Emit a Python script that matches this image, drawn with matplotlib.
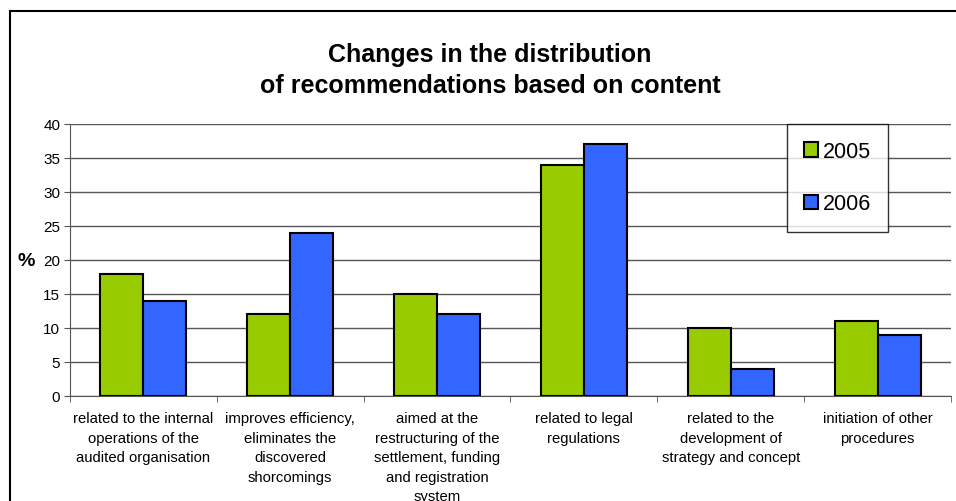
import matplotlib
matplotlib.use("Agg")
import matplotlib.pyplot as plt
from matplotlib.patches import Rectangle
import numpy as np

plt.rcParams['font.family'] = ['Liberation Sans', 'DejaVu Sans']

categories = [
    "related to the internal\noperations of the\naudited organisation",
    "improves efficiency,\neliminates the\ndiscovered\nshorcomings",
    "aimed at the\nrestructuring of the\nsettlement, funding\nand registration\nsystem",
    "related to legal\nregulations",
    "related to the\ndevelopment of\nstrategy and concept",
    "initiation of other\nprocedures",
]
values_2005 = [18, 12, 15, 34, 10, 11]
values_2006 = [14, 24, 12, 37, 4, 9]
series_labels = ["2005", "2006"]
yticks = [0, 5, 10, 15, 20, 25, 30, 35, 40]
title_lines = ["Changes in the distribution",
               "of recommendations based on content"]

W, H = 956, 502
fig = plt.figure(figsize=(W / 100, H / 100), dpi=100)

# outer chart frame (runs off the right and bottom edges)
fig.patches.append(Rectangle((10 / W, -0.05), 1.2, 1 - 12 / H + 0.05,
                             transform=fig.transFigure, fill=False,
                             edgecolor='black', linewidth=1.5, zorder=0))

ax = fig.add_axes([70 / W, 1 - 397 / H, (951 - 70) / W, (397 - 125) / H])

x = np.arange(len(categories))
bw = 0.293
ax.bar(x - bw / 2, values_2005, bw, color='#99CC00', edgecolor='black',
       linewidth=1.5, label=series_labels[0], zorder=3)
ax.bar(x + bw / 2, values_2006, bw, color='#3366FF', edgecolor='black',
       linewidth=1.5, label=series_labels[1], zorder=3)

ax.set_xlim(-0.5, len(categories) - 0.5)
ax.set_ylim(0, 40)
ax.set_yticks(yticks)
ax.tick_params(axis='y', labelsize=11, length=4, direction='out', pad=3,
               color='#555555')
ax.yaxis.grid(True, color='#555555', linewidth=1)
ax.set_axisbelow(True)

ax.set_xticks(x)
ax.set_xticklabels(categories, fontsize=10.7, linespacing=1.5)
ax.tick_params(axis='x', length=0, pad=11)
ax.set_xticks(np.arange(len(categories) + 1) - 0.5, minor=True)
ax.tick_params(axis='x', which='minor', length=4, color='#555555')

for s in ['top', 'right']:
    ax.spines[s].set_visible(False)
for s in ['left', 'bottom']:
    ax.spines[s].set_color('#555555')

ax.set_ylabel('%', fontsize=14, fontweight='bold', rotation=0,
              labelpad=12.5, va='center')

leg = ax.legend(loc='upper left', bbox_to_anchor=((787 - 70) / 881, 1.0),
                fontsize=15.5, frameon=True, fancybox=False, edgecolor='black',
                borderpad=0.8, labelspacing=1.45, handlelength=0.65,
                handleheight=0.65, handletextpad=0.2, borderaxespad=0)
leg.get_frame().set_linewidth(1)

for line, ybase in zip(title_lines, [62, 93]):
    fig.text(490 / W, 1 - ybase / H, line, ha='center', va='baseline',
             fontsize=18, fontweight='bold')

fig.savefig('out.png', dpi=100)
